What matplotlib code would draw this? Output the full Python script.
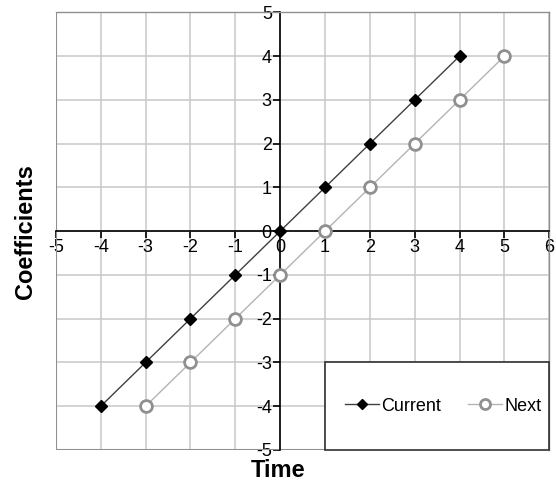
import matplotlib.pyplot as plt
from matplotlib.patches import Rectangle

plt.rcParams['font.family'] = ['Liberation Sans', 'DejaVu Sans']
plt.rcParams['axes.unicode_minus'] = False

# data
current_x = [-4, -3, -2, -1, 0, 1, 2, 3, 4]
current_y = [-4, -3, -2, -1, 0, 1, 2, 3, 4]
next_x = [-3, -2, -1, 0, 1, 2, 3, 4, 5]
next_y = [-4, -3, -2, -1, 0, 1, 2, 3, 4]
x_ticks = list(range(-5, 7))
y_ticks = list(range(-5, 6))

fig = plt.figure(figsize=(5.56, 4.82), dpi=100)
ax = fig.add_axes([0.1005, 0.0664, 0.8875, 0.9081])

ax.set_xlim(-5, 6)
ax.set_ylim(-5, 5)
ax.set_xticks(x_ticks)
ax.set_yticks(y_ticks)
ax.set_xticklabels([str(t) for t in x_ticks])
ax.set_yticklabels([str(t) for t in y_ticks])
ax.grid(True, color='#c8c8c8', linewidth=1.1, zorder=0)
ax.set_axisbelow(True)

# axes cross at origin
for s in ['left', 'bottom']:
    ax.spines[s].set_position('zero')
    ax.spines[s].set_color('black')
    ax.spines[s].set_linewidth(1.2)
for s in ['top', 'right']:
    ax.spines[s].set_color('#909090')
    ax.spines[s].set_linewidth(1.0)
ax.axvline(-5, color='#909090', linewidth=1.5, zorder=1)
ax.axhline(-5, color='#909090', linewidth=1.5, zorder=1)

ax.tick_params(axis='both', direction='out', length=5, width=1.2, color='black',
               labelsize=13, pad=1)

l1, = ax.plot(current_x, current_y, color='#404040', linewidth=1.0,
              marker='D', markersize=6.5, markerfacecolor='black',
              markeredgecolor='black', label='Current', zorder=4)
l2, = ax.plot(next_x, next_y, color='#b4b4b4', linewidth=1.0,
              marker='o', markersize=8.5, markerfacecolor='white',
              markeredgecolor='#909090', markeredgewidth=2.0,
              label='Next', zorder=3)

# legend box
box = Rectangle((6 / 11, 0), 5 / 11, 0.2, transform=ax.transAxes,
                facecolor='white', edgecolor='#303030', linewidth=1.2,
                zorder=5, clip_on=False)
ax.add_patch(box)
leg = ax.legend(handles=[l1, l2], loc='center', bbox_to_anchor=(0.785, 0.1),
                ncol=2, frameon=False, fontsize=13, handlelength=1.9,
                handletextpad=0.1, columnspacing=1.5, markerscale=0.85)
leg.set_zorder(6)

fig.text(0.045, 0.52, 'Coefficients', rotation=90, fontsize=17,
         fontweight='bold', ha='center', va='center')
fig.text(0.5, 0.024, 'Time', fontsize=17, fontweight='bold',
         ha='center', va='center')

fig.savefig('out.png', dpi=100)
